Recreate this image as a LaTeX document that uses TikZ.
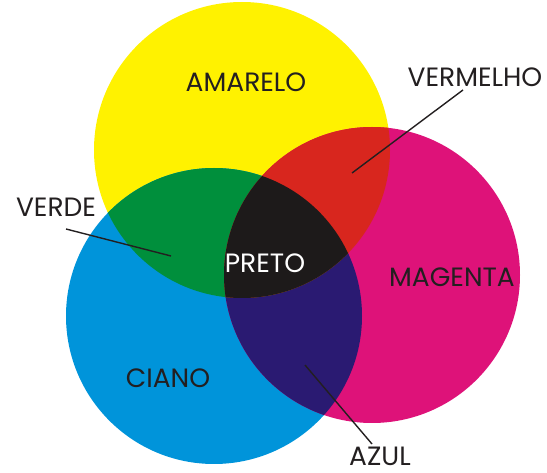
\documentclass[tikz,border=0pt]{standalone}
\usepackage{fontspec}
\setmainfont{Poppins}
\definecolor{yel}{HTML}{FFF200}
\definecolor{cya}{HTML}{0094DA}
\definecolor{mag}{HTML}{DE1279}
\definecolor{grn}{HTML}{008F3C}
\definecolor{rd}{HTML}{D8261E}
\definecolor{blu}{HTML}{2A1A72}
\definecolor{blk}{HTML}{1D1A1A}
\definecolor{txt}{HTML}{231F20}
\begin{document}
\begin{tikzpicture}[x=1pt,y=-1pt,
  lbl/.style={font=\fontsize{26.5}{26.5}\selectfont, text=txt, inner sep=0pt, anchor=center},
  lead/.style={draw=txt, line width=1.4pt}]
\useasboundingbox (0,0) rectangle (547,473);
\coordinate (Y) at (242,150);
\coordinate (C) at (214,316);
\coordinate (M) at (372,275);
\def\R{148pt}
\fill[yel] (Y) circle (\R);
\fill[cya] (C) circle (\R);
\fill[mag] (M) circle (\R);
\begin{scope}
  \clip (C) circle (\R);
  \fill[blu] (M) circle (\R);
\end{scope}
\begin{scope}
  \clip (Y) circle (\R);
  \fill[grn] (C) circle (\R);
  \fill[rd] (M) circle (\R);
  \clip (C) circle (\R);
  \fill[blk] (M) circle (\R);
\end{scope}
\node[lbl] (amarelo) at (246,82) {AMARELO};
\node[lbl] (vermelho) at (475,77) {VERMELHO};
\node[lbl] (verde) at (56,207.5) {VERDE};
\node[lbl, text=white] (preto) at (265,263) {PRETO};
\node[lbl] (magenta) at (452,277) {MAGENTA};
\node[lbl] (ciano) at (168,378) {CIANO};
\node[lbl] (azul) at (380,456) {AZUL};
\coordinate (vmA) at (463,90);
\coordinate (vmB) at (352,173);
\coordinate (vdA) at (66,229);
\coordinate (vdB) at (171,256);
\coordinate (azA) at (372,444);
\coordinate (azB) at (305,365);
\draw[lead] (vmA) -- (vmB);
\draw[lead] (vdA) -- (vdB);
\draw[lead] (azA) -- (azB);
\end{tikzpicture}
\end{document}
